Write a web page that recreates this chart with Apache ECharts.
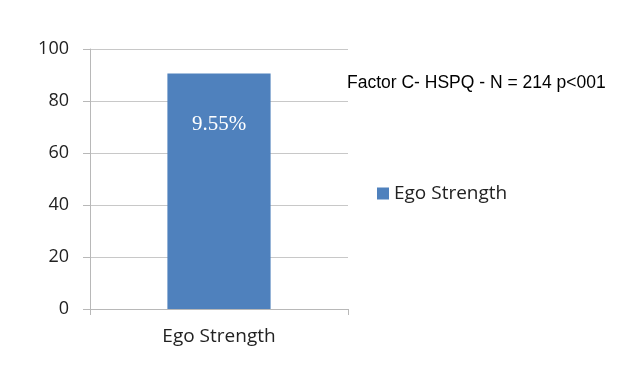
<!DOCTYPE html>
<html><head><meta charset="utf-8">
<script src="https://cdn.jsdelivr.net/npm/echarts@6/dist/echarts.min.js"></script>
<style>html,body{margin:0;padding:0;background:#fff}#c{width:623px;height:388px}</style>
</head><body><div id="c"></div>
<script>
var categories = ['Ego Strength'];
var values = [90.6];
var barLabels = ['9.55%'];
var seriesName = 'Ego Strength';
var note = 'Factor C- HSPQ - N = 214 p<001';

var chart = echarts.init(document.getElementById('c'));
chart.setOption({
  animation: false,
  backgroundColor: '#fff',
  grid: {left: 90, top: 49, width: 258, height: 260},
  title: {
    text: note, left: 342, top: 69,
    textStyle: {fontFamily: 'Liberation Sans', fontSize: 17.5, fontWeight: 'normal', color: '#000'}
  },
  legend: {
    data: [seriesName], left: 372, top: 179, itemWidth: 12, itemHeight: 12, itemGap: 6,
    icon: 'rect',
    textStyle: {fontFamily: 'Open Sans', fontSize: 19, color: '#222'}
  },
  xAxis: {
    type: 'category', data: categories,
    axisLine: {lineStyle: {color: '#b8b8b8', width: 1}},
    axisTick: {show: true, length: 6, lineStyle: {color: '#b8b8b8'}},
    axisLabel: {fontFamily: 'Open Sans', fontSize: 19, color: '#222', margin: 18}
  },
  yAxis: {
    type: 'value', min: 0, max: 100, interval: 20,
    axisLine: {show: true, lineStyle: {color: '#b8b8b8'}},
    axisTick: {show: true, length: 7, lineStyle: {color: '#b8b8b8'}},
    splitLine: {lineStyle: {color: '#c8c8c8'}},
    axisLabel: {fontFamily: 'Open Sans', fontSize: 18, color: '#222', margin: 21}
  },
  series: [{
    name: seriesName, type: 'bar', data: values, barWidth: '40%',
    itemStyle: {color: '#4f81bd'},
    label: {
      show: true, position: 'insideTop', distance: 41,
      formatter: function (p) { return barLabels[p.dataIndex]; },
      fontFamily: 'Liberation Serif', fontSize: 21, color: '#fff'
    }
  }]
});
</script></body></html>
